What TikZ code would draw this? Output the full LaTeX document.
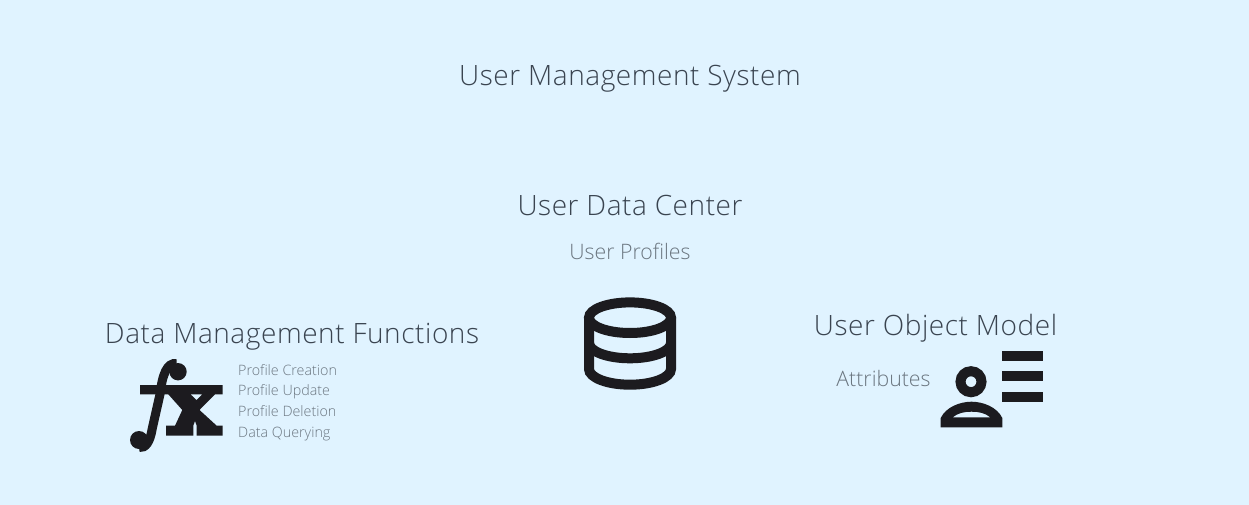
\documentclass[tikz,border=0pt]{standalone}
\usepackage{fontspec}
\setmainfont[Ligatures=NoCommon]{Open Sans Light}
\definecolor{pagebg}{HTML}{E0F3FF}
\definecolor{iconink}{HTML}{1C1B1F}
\definecolor{titleink}{HTML}{3A4450}
\definecolor{subink}{HTML}{6B7680}
\begin{document}
\begin{tikzpicture}[
  x=1pt, y=-1pt,
  heading/.style={text=titleink, font=\fontsize{28}{32}\selectfont\addfontfeature{LetterSpace=2}, inner sep=0pt, anchor=base},
  subtext/.style={text=subink, font=\fontsize{21.3}{26}\selectfont, inner sep=0pt, anchor=base},
  listitem/.style={text=subink, font=\fontsize{14.3}{18}\selectfont, inner sep=0pt, anchor=base west},
  iconfill/.style={fill=iconink, draw=none},
  iconline/.style={draw=iconink, line width=10pt}
]
\fill[pagebg] (0,0) rectangle (1249,505);
\useasboundingbox (0,0) rectangle (1249,505);

\node[heading] (system) at (630,86) {User Management System};
\node[heading] (center) at (630,215) {User Data Center};
\node[subtext] (profiles) at (630,259) {User Profiles};
\node[heading] (functions) at (292,343) {Data Management Functions};
\node[heading] (model) at (935.5,335) {User Object Model};
\node[subtext] (attributes) at (883.5,386) {Attributes};
\node[listitem] (creation) at (238,375) {Profile Creation};
\node[listitem] (update) at (238,395.7) {Profile Update};
\node[listitem] (deletion) at (238,416.7) {Profile Deletion};
\node[listitem] (querying) at (238,437.3) {Data Querying};

\draw[iconline] (630,317.7) ellipse [x radius=41, y radius=15.3];
\draw[iconline] (589,317.7) -- (589,369) arc [start angle=180, end angle=0, x radius=41, y radius=15.7] -- (671,317.7);
\draw[iconline] (589,343) arc [start angle=180, end angle=0, x radius=41, y radius=15.3];

\draw[iconink, line width=9pt] (176.7,363.5) .. controls (166.7,362.3) and (162.3,375) .. (160,394.3) -- (152.3,428.3) .. controls (150,442.3) and (145.7,448.3) .. (139,447.5);
\fill[iconfill] (178,371.7) circle [radius=8.7];
\fill[iconfill] (139,440) circle [radius=9];
\fill[iconfill, even odd rule] (140,385) -- (222.7,385) -- (222.7,394.3) -- (215,394.3) -- (199.5,410) -- (216.7,425.7) -- (222.7,425.7) -- (222.7,435.7) -- (196.7,435.7) -- (196.7,425.7) -- (195,421) -- (193.3,425.7) -- (193.3,435.7) -- (166,435.7) -- (166,425.7) -- (175,425.7) -- (182.3,410) -- (168.3,394.3) -- (140,394.3) -- cycle
  (202.3,394.3) -- (196.5,400) -- (190.5,394.3) -- cycle;

\draw[iconline] (971,381.7) circle [radius=10.5];
\fill[iconfill, even odd rule] (940.7,427.3) -- (940.7,418) .. controls (946,407) and (960,401.7) .. (971.5,401.7) .. controls (983,401.7) and (997,407) .. (1002.3,418) -- (1002.3,427.3) -- cycle
  (952.7,417.3) .. controls (958,413) and (964,411.7) .. (971.5,411.7) .. controls (979,411.7) and (985,413) .. (990.3,417.3) -- cycle;
\fill[iconfill] (1002.3,350.7) rectangle (1043.3,360.7);
\fill[iconfill] (1002.3,371) rectangle (1043.3,381);
\fill[iconfill] (1002.3,391.7) rectangle (1043.3,401.7);
\end{tikzpicture}
\end{document}
